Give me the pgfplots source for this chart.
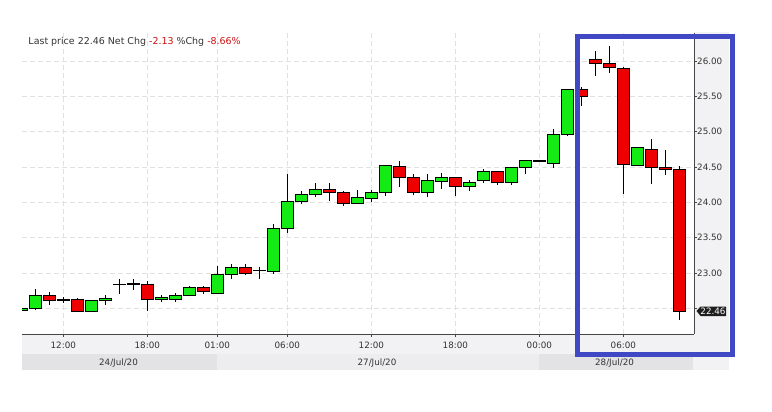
\documentclass[border=0pt]{standalone}
\usepackage{pgfplots}
\pgfplotsset{compat=1.18}
\usepackage{pgfplotstable}
\usepackage{fontspec}
\setmainfont{DejaVu Sans}
\definecolor{cgreen}{RGB}{20,235,20}
\definecolor{cred}{RGB}{238,0,0}
\definecolor{gridc}{RGB}{225,225,225}
\definecolor{axc}{RGB}{70,70,70}
\definecolor{txt}{RGB}{51,51,51}
\definecolor{panel}{RGB}{242,242,244}
\definecolor{banddark}{RGB}{227,227,229}
\definecolor{bandlight}{RGB}{237,237,239}
\definecolor{framec}{RGB}{64,72,196}
\definecolor{neg}{RGB}{204,17,17}
\definecolor{tagc}{RGB}{30,30,30}

% green (rising) candles: x open high low close
\pgfplotstableread{
x o h l c
-3 22.47 22.51 22.46 22.50
-2 22.49 22.77 22.48 22.68
0 22.61 22.66 22.57 22.63
2 22.46 22.62 22.45 22.61
3 22.61 22.69 22.54 22.64
4 22.83 22.92 22.70 22.836
5 22.83 22.91 22.76 22.85
7 22.63 22.69 22.59 22.65
8 22.62 22.72 22.59 22.68
9 22.68 22.82 22.67 22.80
11 22.71 23.10 22.70 22.98
12 22.98 23.13 22.91 23.08
14 23.03 23.09 22.91 23.036
15 23.02 23.70 22.99 23.63
16 23.63 24.40 23.56 24.01
17 24.01 24.16 23.98 24.11
18 24.11 24.28 24.07 24.18
21 23.99 24.17 23.98 24.07
22 24.06 24.17 24.01 24.14
23 24.14 24.53 24.09 24.52
26 24.14 24.40 24.07 24.31
27 24.30 24.42 24.19 24.35
29 24.23 24.31 24.16 24.28
30 24.31 24.47 24.28 24.44
32 24.28 24.50 24.24 24.50
33 24.50 24.59 24.40 24.59
35 24.55 25.04 24.48 24.96
36 24.96 25.60 24.94 25.60
41 24.52 24.77 24.52 24.77
}\greenc

% red (falling) candles: x open high low close
\pgfplotstableread{
x o h l c
-1 22.68 22.73 22.55 22.61
1 22.63 22.64 22.45 22.46
6 22.84 22.88 22.46 22.63
10 22.80 22.82 22.70 22.74
13 23.08 23.12 22.97 22.99
19 24.18 24.28 24.02 24.14
20 24.14 24.16 23.95 23.99
24 24.51 24.59 24.22 24.35
25 24.35 24.40 24.11 24.14
28 24.35 24.35 24.09 24.23
31 24.44 24.45 24.24 24.28
34 24.59 24.59 24.58 24.582
37 25.60 25.64 25.37 25.50
38 26.02 26.14 25.79 25.96
39 25.96 26.22 25.83 25.91
40 25.90 25.92 24.12 24.53
42 24.75 24.90 24.26 24.50
43 24.50 24.74 24.38 24.46
44 24.47 24.52 22.34 22.46
}\redc

\pgfplotsset{common/.style={scale only axis, width=672bp, height=301bp,
  xmin=-2.95, xmax=45.05, ymin=22.135, ymax=26.398,
  at={(22bp,77bp)}, anchor=south west}}

\begin{document}
\begin{tikzpicture}[x=1bp,y=1bp]
\useasboundingbox (0,0) rectangle (772,411);
\fill[white] (0,0) rectangle (772,411);
\fill[panel] (694,57.3) rectangle (729,379);
\fill[panel] (22,57.3) rectangle (729,77);
\fill[banddark] (22,41) rectangle (217,57.3);
\fill[bandlight] (217,41) rectangle (539,57.3);
\fill[banddark] (539,41) rectangle (693,57.3);
\fill[panel] (693,41) rectangle (729,57.3);

\begin{axis}[common,
  axis x line*=bottom, axis y line*=right,
  axis line style={-, draw=axc, line width=0.9bp},
  xtick={0,6,11,16,22,28,34,40},
  xticklabels={12:00,18:00,01:00,06:00,12:00,18:00,00:00,06:00},
  ytick={23,23.5,24,24.5,25,25.5,26},
  yticklabels={23.00,23.50,24.00,24.50,25.00,25.50,26.00},
  extra y ticks={22.5}, extra y tick labels={},
  extra y tick style={grid=major},
  grid=major,
  major grid style={gridc, dash pattern=on 5bp off 3bp, line width=0.8bp},
  tick align=outside, major tick length=3bp,
  tick style={axc, line width=0.8bp},
  ticklabel style={font=\fontsize{8.8}{10}\selectfont, text=txt},
  xticklabel style={anchor=base, inner sep=0pt, yshift=-11bp},
  yticklabel style={anchor=west, inner sep=0pt},
]
\addplot[draw=none, mark=none,
  error bars/.cd, y dir=both, y explicit, error mark=none,
  error bar style={draw=black, line width=1bp, solid}]
  table[x=x, y expr={(\thisrow{h}+\thisrow{l})/2},
        y error plus expr={(\thisrow{h}-\thisrow{l})/2},
        y error minus expr={(\thisrow{h}-\thisrow{l})/2}] {\greenc};
\addplot[draw=none, mark=none,
  error bars/.cd, y dir=both, y explicit, error mark=none,
  error bar style={draw=black, line width=1bp, solid}]
  table[x=x, y expr={(\thisrow{h}+\thisrow{l})/2},
        y error plus expr={(\thisrow{h}-\thisrow{l})/2},
        y error minus expr={(\thisrow{h}-\thisrow{l})/2}] {\redc};
\end{axis}

\begin{axis}[common, hide axis, ybar stacked, bar width=11.3bp]
\addplot[draw=none, fill=none] table[x=x, y=o] {\greenc};
\addplot[draw=black, line width=0.9bp, fill=cgreen] table[x=x, y expr={\thisrow{c}-\thisrow{o}}] {\greenc};
\end{axis}

\begin{axis}[common, hide axis, ybar stacked, bar width=11.3bp]
\addplot[draw=none, fill=none] table[x=x, y=c] {\redc};
\addplot[draw=black, line width=0.9bp, fill=cred] table[x=x, y expr={\thisrow{o}-\thisrow{c}}] {\redc};
\end{axis}

\node[anchor=base west, inner sep=0pt, text=txt, font=\fontsize{9.5}{11}\selectfont] at (28.3,367)
  {Last price 22.46 Net Chg \textcolor{neg}{-2.13} \%Chg \textcolor{neg}{-8.66\%}};
\node[anchor=base, inner sep=0pt, text=txt, font=\fontsize{8.8}{10}\selectfont] at (118.5,45.3) {24/Jul/20};
\node[anchor=base, inner sep=0pt, text=txt, font=\fontsize{8.8}{10}\selectfont] at (377,45.3) {27/Jul/20};
\node[anchor=base, inner sep=0pt, text=txt, font=\fontsize{8.8}{10}\selectfont] at (614.5,45.3) {28/Jul/20};

\fill[tagc] (696.5,100) -- (700.5,104.5) -- (726,104.5) -- (726,95) -- (700.5,95) -- cycle;
\node[text=white, inner sep=0pt, font=\fontsize{8.8}{10}\selectfont] at (713,99.8) {22.46};

\draw[framec, line width=4.4bp] (577.5,374.5) rectangle (732.5,56.5);
\end{tikzpicture}
\end{document}
